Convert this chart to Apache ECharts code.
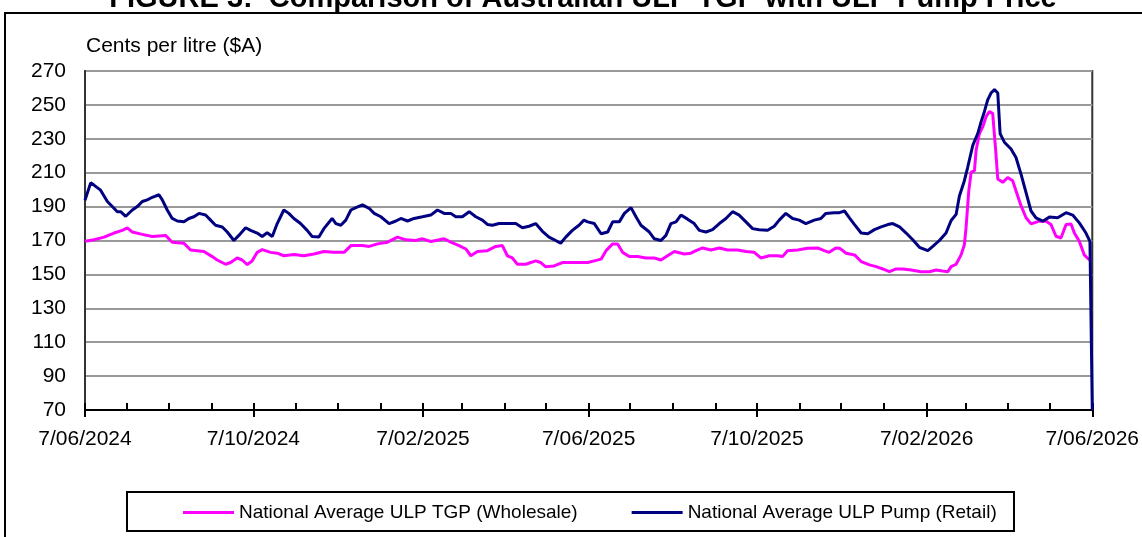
<!DOCTYPE html>
<html>
<head>
<meta charset="utf-8">
<script src="https://cdn.jsdelivr.net/npm/echarts@6/dist/echarts.min.js"></script>
<style>
  html, body { margin: 0; padding: 0; background: #fff; }
  #chart { width: 1142px; height: 537px; }
</style>
</head>
<body>
<div id="chart"></div>
<script>
// days counted from 7 June 2024, values in cents per litre
var startDate = '2024-06-07'
var endDate = '2026-06-07'

var tgpDays = [0, 6.5, 13.8, 21, 27, 30.7, 34.3, 41.5, 48.8, 58.4, 63.2, 71.7, 76.5, 86.2, 92.2, 95.8, 101.9, 105.5, 110.3, 113.9,
  117.6, 121.2, 124.8, 128.4, 134.5, 139.3, 144.1, 151.4, 158.6, 165.8, 173.1, 180.3,
  187.8, 192.7, 201.1, 205.9, 212, 219.2, 226.5, 232.5, 239.7, 244.6, 250.6, 254.2, 260.3, 265.1, 271.1, 276, 279.6, 284.4,
  291.6, 297.7, 302.5, 306.1, 309.7, 313.4, 319.4, 326.6, 330.3, 333.9, 339.9, 346, 355.6,
  364.3, 369.1, 374, 377.6, 382.4, 386, 389.6, 394.5, 400.5, 406.5, 412.6, 417.4, 422.2, 427.1, 434.3, 439.1, 442.8, 447.6,
  453.6, 459.7, 465.7, 472.9, 479, 485, 489.8, 495.9, 501.9, 505.5, 509.1, 516.4, 523.6, 530.9, 535.7, 539.3, 544.1,
  546.8, 551.6, 557.7, 562.5, 568.5, 573.4, 578.2, 583, 587.8, 592.7, 598.7, 606, 612, 616.8, 621.6, 625.3, 627.7, 631.3,
  634.9, 637.3, 638.5, 640.5, 642.2, 644.6, 645.8, 648.2, 650.6, 653, 655.4, 657.8, 659.8, 661.5, 665.1, 668.7, 672.3,
  674.7, 678.4, 682, 685.6, 691.6, 696.5, 700.1, 703.7, 707.3, 711, 714.6, 717, 720.6, 724.2, 726.6, 728.3]
var tgpValues = [169.6, 170.4, 172, 174.4, 176, 177.5, 175, 173.6, 172.4, 173, 169, 168.4, 164.4, 163.5, 160.5, 158.5, 156, 157, 159.7, 158.5,
  155.8, 158, 163, 164.6, 163, 162.5, 161, 161.7, 161, 162, 163.5, 163,
  163, 167, 167, 166.5, 168, 169, 172, 170.4, 170, 171, 169.4, 170, 171, 169, 167, 165, 161, 163.5,
  164, 166.5, 167, 161, 159.7, 156, 156, 158, 157, 154.5, 155, 157, 157,
  157, 158, 159, 164, 168, 168, 163, 160.5, 160.5, 159.7, 159.7, 158.5, 161, 163.5, 162, 162.5, 164, 165.6,
  164.4, 165.6, 164.4, 164.4, 163.5, 163, 159.7, 161, 161, 160.5, 164, 164.4, 165.4, 165.6, 164, 163, 165.6,
  165.5, 162.5, 161.5, 157.6, 155.6, 154.6, 153.2, 151.6, 153.2, 153.2, 152.6, 151.6, 151.6, 152.6, 152, 151.6, 154.6, 156,
  161.5, 167.5, 177.4, 199.3, 210.2, 211.2, 223.2, 233.1, 237, 243, 246, 245, 225.2, 206.3, 204.3, 207.2, 205.3,
  199.3, 190.4, 183.4, 179.8, 181.4, 181.4, 179.4, 172.5, 171.5, 179.4, 179.8, 174.4, 169.5, 161.5, 159.5, 158.5]

var pumpDays = [0, 4.1, 6.5, 11.3, 16.2, 21, 23.4, 25.8, 29.5, 34.3, 37.9, 41.5, 45.1, 48.8, 53.6, 56, 59.6, 63.2, 66.9, 71.7,
  75.3, 78.9, 82.6, 87.4, 91, 94.6, 99.5, 103.1, 107.9, 111.5, 116.4, 120, 124.8, 128.4, 132, 135.7, 139.3, 144.1, 147.7, 151.4,
  156.2, 161, 164.6, 169.5, 173.1, 179.1,
  181.8, 185.4, 189, 192.7, 196.3, 201.1, 205.9, 209.6, 214.4, 220.4, 225.3, 228.9, 233.7, 238.5, 244.6, 250.6, 255.4, 260.3, 265.1, 268.7,
  273.5, 278.4, 283.2, 288, 291.6, 295.3, 300.1, 304.9, 312.2, 317, 321.8, 326.6, 331.5, 336.3, 341.1, 344.7, 348.4, 353.2, 358, 361.6,
  364.3, 369.1, 374, 378.8, 382.4, 387.2, 390.9, 395.7, 399.3, 402.9, 409, 412.6, 417.4, 421, 424.6, 428.3, 431.9, 436.7, 441.5, 445.2,
  450, 454.8, 459.7, 464.5, 469.3, 474.1, 479, 483.8, 488.6, 494.7, 499.5, 503.1, 507.9, 512.8, 517.6, 522.4, 528.5, 533.3, 536.9, 542.9,
  546.8, 550.4, 554, 557.7, 562.5, 567.3, 572.1, 577, 581.8, 585.4, 590.3, 595.1, 599.9, 604.7, 610.8, 614.4, 619.2, 624, 627.7, 631.3,
  633.7, 637.3, 639.7, 643.4, 647, 649.4, 651.8, 654.2, 656.6, 659.1, 661.5, 663.2, 666.3, 671.1, 674.7, 678.4, 682, 685.6, 689.2, 694.1,
  698.9, 704.9, 711, 715.8, 720.6, 725.4, 728.3, 730]
var pumpValues = [193.8, 204, 202.7, 199.7, 193, 189, 187, 187, 184.3, 188, 190, 193, 194, 195.5, 197, 194, 188, 183, 181.5, 181,
  183, 184, 186, 185, 182, 179, 178, 175, 170, 173, 177.5, 176, 174.4, 172.4, 174.6, 172.4, 180, 188, 186, 183,
  180, 176, 172.4, 172, 177, 183,
  180, 179, 182, 188, 189.4, 191, 189, 186, 184, 180, 181.5, 183, 181.5, 183, 184, 185, 188, 186, 186, 184,
  184, 187, 184, 182, 179.5, 179, 180, 180, 180, 177.5, 178.4, 180, 175.4, 172, 170, 168.4, 172, 176, 179, 182,
  181, 180, 174, 175, 181, 181, 186, 189.4, 184, 179, 175, 171, 170, 173, 180, 181, 185, 182.6, 180, 176,
  175, 176.4, 180, 183, 187, 185, 181, 177, 176.4, 176, 178.4, 182, 186, 183, 182, 180, 182, 183, 186, 186.4,
  186.4, 187.4, 183.4, 179.4, 174.4, 174, 176.4, 178, 179.4, 180, 178, 174.4, 170.4, 166, 164, 166.5, 170, 174.4, 181.8, 185.4,
  196.3, 205.3, 213.2, 226.1, 233.1, 240, 246, 253, 257, 259, 257, 233.1, 228, 224, 219, 209, 198.3, 187.4, 183.4, 181.4,
  183.8, 183.4, 186.4, 185, 180.4, 174.4, 169.5, 70]

// monthly ticks and the labelled ones
var monthTicks = ['2024-06-07', '2024-07-07', '2024-08-07', '2024-09-07', '2024-10-07', '2024-11-07', '2024-12-07',
  '2025-01-07', '2025-02-07', '2025-03-07', '2025-04-07', '2025-05-07', '2025-06-07', '2025-07-07', '2025-08-07',
  '2025-09-07', '2025-10-07', '2025-11-07', '2025-12-07', '2026-01-07', '2026-02-07', '2026-03-07', '2026-04-07',
  '2026-05-07', '2026-06-07']
var labelDates = ['2024-06-07', '2024-10-07', '2025-02-07', '2025-06-07', '2025-10-07', '2026-02-07', '2026-06-07']
var labelTexts = ['7/06/2024', '7/10/2024', '7/02/2025', '7/06/2025', '7/10/2025', '7/02/2026', '7/06/2026']

var yMin = 70, yMax = 270, yStep = 20

var FONT = "'Liberation Sans', Arial, sans-serif"
var DAY = 86400000

function toTime(s) {
  var p = s.split('-').map(Number)
  return Date.UTC(p[0], p[1] - 1, p[2])
}
var t0 = toTime(startDate)
var t1 = toTime(endDate)
var tickTimes = monthTicks.map(toTime)
var labelTimes = labelDates.map(toTime)

function pairs(days, vals) {
  return days.map(function (d, i) { return [t0 + d * DAY, vals[i]] })
}

var chart = echarts.init(document.getElementById('chart'))
chart.setOption({
  animation: false,
  backgroundColor: '#fff',
  grid: {
    left: 85, top: 71, width: 1008, height: 339,
    show: true, borderColor: '#333', borderWidth: 2, backgroundColor: 'transparent'
  },
  legend: {
    left: 183, top: 503, padding: 0,
    itemWidth: 51, itemHeight: 3, itemGap: 54, icon: 'rect',
    textStyle: { fontFamily: FONT, fontSize: 19, color: '#000' },
    data: ['National Average ULP TGP (Wholesale)', 'National Average ULP Pump (Retail)']
  },
  xAxis: [{
    type: 'value', min: t0, max: t1,
    axisLine: { lineStyle: { color: '#000', width: 2 } },
    axisTick: { show: true, customValues: tickTimes, inside: true, length: 7, lineStyle: { color: '#000', width: 2 } },
    axisLabel: {
      customValues: labelTimes, margin: 19, showMinLabel: true, showMaxLabel: true,
      fontFamily: FONT, fontSize: 21, color: '#000',
      formatter: function (v) {
        var i = labelTimes.indexOf(v)
        return i >= 0 ? labelTexts[i] : ''
      }
    },
    splitLine: { show: false }
  }, {
    type: 'value', min: t0, max: t1, position: 'bottom',
    axisLine: { show: false },
    axisTick: { show: true, customValues: labelTimes, inside: false, length: 7, lineStyle: { color: '#000', width: 2 } },
    axisLabel: { show: false },
    splitLine: { show: false }
  }],
  yAxis: {
    type: 'value', min: yMin, max: yMax, interval: yStep,
    axisLine: { show: true, lineStyle: { color: '#333', width: 2 } },
    axisTick: { show: false },
    axisLabel: { margin: 19, fontFamily: FONT, fontSize: 21, color: '#000' },
    splitLine: { lineStyle: { color: '#999', width: 2 } }
  },
  graphic: [
    { type: 'rect', shape: { x: 5, y: 13, width: 1160, height: 560 }, style: { fill: 'none', stroke: '#000', lineWidth: 2 }, z: -1 },
    { type: 'text', x: 583, y: 13, style: { text: 'FIGURE 3:  Comparison of Australian ULP TGP with ULP Pump Price', font: 'bold 29px ' + FONT, fill: '#000', align: 'center', verticalAlign: 'bottom' } },
    { type: 'text', x: 86, y: 46, style: { text: 'Cents per litre ($A)', font: '21px ' + FONT, fill: '#000', verticalAlign: 'middle' } },
    { type: 'rect', shape: { x: 127, y: 492, width: 887, height: 39 }, style: { fill: 'none', stroke: '#000', lineWidth: 2 } }
  ],
  series: [{
    name: 'National Average ULP TGP (Wholesale)',
    type: 'line', showSymbol: false, symbol: 'none',
    lineStyle: { color: '#ff00ff', width: 3 }, itemStyle: { color: '#ff00ff' },
    data: pairs(tgpDays, tgpValues)
  }, {
    name: 'National Average ULP Pump (Retail)',
    type: 'line', showSymbol: false, symbol: 'none',
    lineStyle: { color: '#000080', width: 3 }, itemStyle: { color: '#000080' },
    data: pairs(pumpDays, pumpValues)
  }]
})
</script>
</body>
</html>
